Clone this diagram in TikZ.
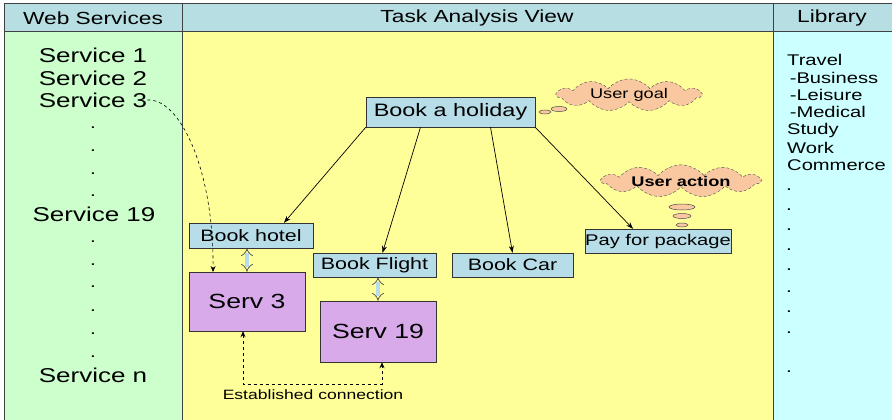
\documentclass[tikz,border=0pt]{standalone}
\usepackage{fontspec}
\setmainfont{Liberation Sans}[FakeStretch=1.3]
\usetikzlibrary{positioning, arrows.meta, calc, shapes.symbols}

\definecolor{headblue}{RGB}{183,222,226}
\definecolor{wsgreen}{RGB}{204,255,204}
\definecolor{taskyellow}{RGB}{255,255,153}
\definecolor{libcyan}{RGB}{204,255,255}
\definecolor{boxblue}{RGB}{183,222,232}
\definecolor{servpurple}{RGB}{216,170,234}
\definecolor{cloudpeach}{RGB}{250,200,160}

\newcommand{\fsz}[1]{\fontsize{#1}{#1}\selectfont}

\begin{document}
\begin{tikzpicture}[
    x=1pt, y=-1pt,
    frameline/.style={draw=black!75, line width=1pt},
    headtext/.style={font=\fsz{17.5}, inner sep=0pt},
    servtext/.style={font=\fsz{20}, inner sep=0pt},
    libtext/.style={font=\fsz{15.5}, anchor=west, inner sep=0pt},
    dotnode/.style={font=\fsz{16}, inner sep=0pt},
    taskbox/.style={rectangle, draw=black!80, fill=boxblue, inner sep=0pt, font=\fsz{16.5}},
    servbox/.style={rectangle, draw=black!80, fill=servpurple, inner sep=0pt, font=\fsz{20.5}},
    thought/.style={cloud, cloud puffs=11, cloud puff arc=100, cloud ignores aspect, draw=black!70, densely dashed, fill=cloudpeach, inner sep=0pt, font=\fsz{14}},
    puff/.style={draw=black!70, fill=cloudpeach, line width=0.5pt},
    goalarrow/.style={-{Stealth[length=7pt, width=5pt]}, line width=0.7pt},
    bindarrow/.style={{Implies}-{Implies}, double=boxblue, double distance=3.5pt, line width=0.7pt, draw=black!70},
    connarrow/.style={dashed, line width=0.9pt, {Stealth[length=6pt, width=5pt]}-{Stealth[length=6pt, width=5pt]}},
]
\useasboundingbox (0,0) rectangle (892,420);

% columns
\fill[wsgreen] (4,32) rectangle (182,420);
\fill[taskyellow] (182,32) rectangle (773,420);
\fill[libcyan] (773,32) rectangle (892,420);
\fill[headblue] (4,4) rectangle (892,32);
\draw[frameline] (892,4) -- (4,4) -- (4,420);
\draw[frameline] (4,32) -- (892,32);
\draw[frameline] (182,4) -- (182,420);
\draw[frameline] (773,4) -- (773,420);

\node[headtext](wshead) at (93,18){Web Services};
\node[headtext](taskhead) at (477,18){Task Analysis View};
\node[headtext](libhead) at (832,18){Library};

% web services
\node[servtext](svc1) at (93,55){Service 1};
\node[servtext](svc2) at (93,78){Service 2};
\node[servtext](svc3) at (93,100){Service 3};
\node[servtext](svc19) at (94,214){Service 19};
\node[servtext](svcn) at (93,375){Service n};
\foreach \y in {128,151,174,196,242,265,287,311,334,357}
    \node[dotnode](wsdot\y) at (93,\y){.};

% library
\node[libtext](travel) at (787,60){Travel};
\node[libtext](business) at (787,78){\,-Business};
\node[libtext](leisure) at (787,95){\,-Leisure};
\node[libtext](medical) at (787,112){\,-Medical};
\node[libtext](study) at (787,130){Study};
\node[libtext](work) at (787,148){Work};
\node[libtext](commerce) at (787,165){Commerce};
\foreach \y in {190,210,230,250,270,292,312,333,372}
    \node[dotnode](libdot\y) at (789,\y){.};

% task analysis
\node[taskbox, minimum width=169pt, minimum height=30pt, font=\fsz{18}](holiday) at (450.5,112){Book a holiday};
\node[taskbox, minimum width=124pt, minimum height=25pt](hotel) at (251,235.5){Book hotel};
\node[taskbox, minimum width=123pt, minimum height=24pt](flight) at (374.5,265){Book Flight};
\node[taskbox, minimum width=121pt, minimum height=24pt](car) at (512.5,265){Book Car};
\node[taskbox, minimum width=138pt, minimum height=24pt, font=\fsz{15.5}](pay) at (658,241){Pay for package};
\node[servbox, minimum width=116pt, minimum height=59pt](serv3) at (247,301.5){Serv 3};
\node[servbox, minimum width=116pt, minimum height=61pt](serv19) at (378,331.5){Serv 19};

\draw[goalarrow] (holiday.south west) -- ([xshift=33pt]hotel.north);
\draw[goalarrow] ([xshift=-30pt]holiday.south) -- ([xshift=8pt]flight.north);
\draw[goalarrow] ([xshift=40pt]holiday.south) -- (car.north);
\draw[goalarrow] (holiday.south east) -- ([xshift=-25pt]pay.north);

\draw[bindarrow] (serv3.north |- hotel.south) -- (serv3.north);
\draw[bindarrow] (serv19.north |- flight.south) -- (serv19.north);

% thoughts
\node[thought, minimum width=144pt, minimum height=30pt](goal) at (629,95){User goal};
\draw[puff] (545,112) ellipse [x radius=6pt, y radius=2pt];
\draw[puff] (559,109) ellipse [x radius=8pt, y radius=2.5pt];
\node[thought, minimum width=158pt, minimum height=31pt, font=\fsz{14}\bfseries](action) at (681,181){User action};
\draw[puff] (682,207) ellipse [x radius=13pt, y radius=3pt];
\draw[puff] (682,216) ellipse [x radius=9pt, y radius=2.5pt];
\draw[puff] (682,225) ellipse [x radius=6pt, y radius=2pt];

% selected service
\coordinate (s3in) at (213,272);
\draw[dashed, line width=0.6pt, -{Stealth[length=6pt, width=5pt]}] (svc3.east) .. controls (180,98) and (214,170) .. (s3in);

% established connection
\coordinate (linkL) at (243,384);
\coordinate (linkR) at (382,384);
\draw[connarrow] (linkL |- serv3.south) -- (linkL) -- (linkR) -- (linkR |- serv19.south);
\node[font=\fsz{13.5}, inner sep=0pt](linklabel) at (313,395){Established connection};
\end{tikzpicture}
\end{document}
